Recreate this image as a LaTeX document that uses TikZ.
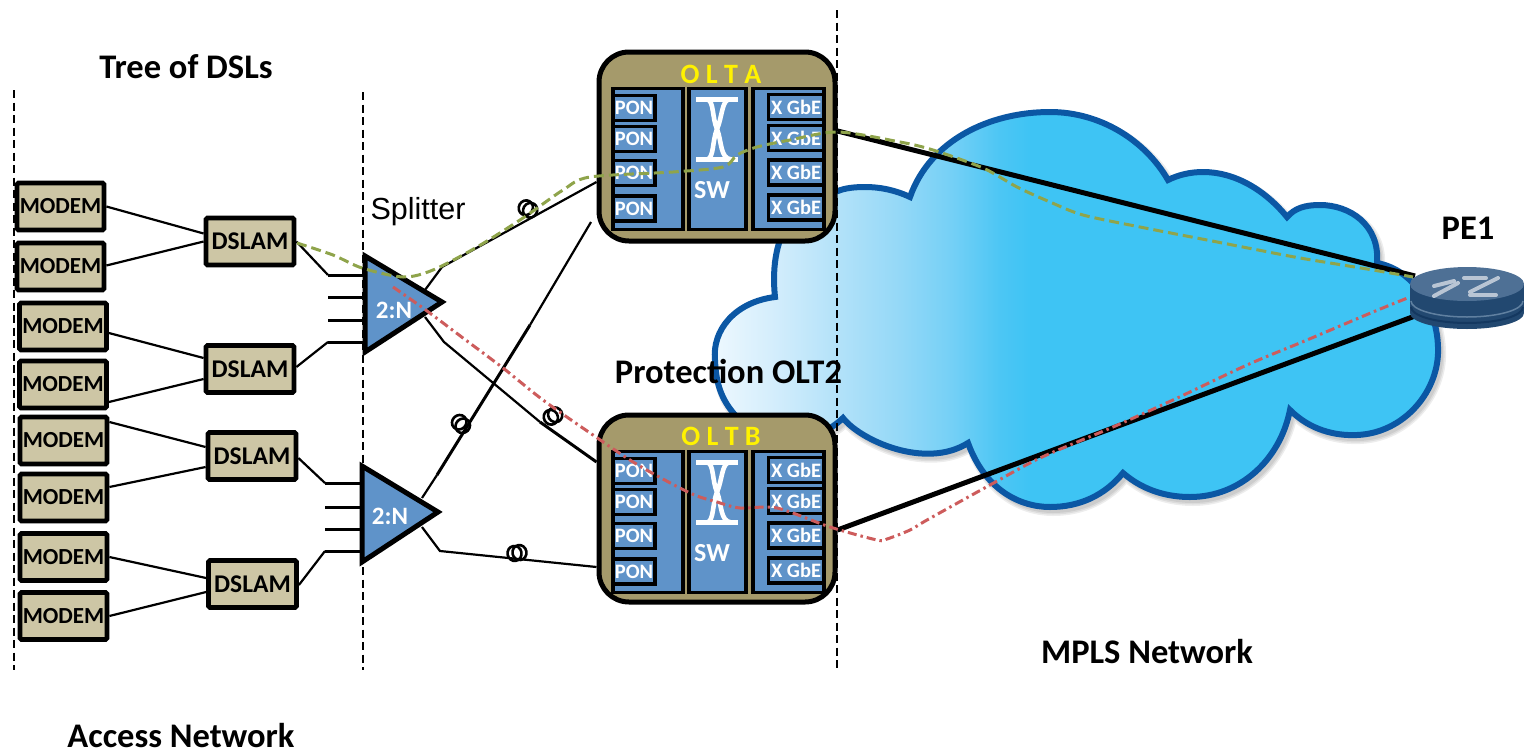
\documentclass[tikz,border=0pt]{standalone}
\usepackage{fontspec}
\setmainfont{Carlito}[BoldFont={Carlito Bold}]
\newfontfamily\splitfont{Liberation Sans}
\usetikzlibrary{calc}
\definecolor{oltfill}{HTML}{A59A6B}
\definecolor{panelblue}{HTML}{5F93C9}
\definecolor{modemfill}{HTML}{CDC6A5}
\definecolor{cloudedge}{HTML}{0B57A4}
\definecolor{gpath}{HTML}{8FA44B}
\definecolor{rpath}{HTML}{CD5C5C}
\definecolor{c0}{HTML}{EBF7FE}
\definecolor{c1}{HTML}{D5EEFC}
\definecolor{c2}{HTML}{B4E2F9}
\definecolor{c3}{HTML}{93D8F7}
\definecolor{c4}{HTML}{75D0F6}
\definecolor{c5}{HTML}{4CC6F4}
\definecolor{c6}{HTML}{3EC4F4}
\pgfdeclarehorizontalshading{cloudshade}{100bp}{color(0bp)=(c0); color(25.5bp)=(c0); color(29bp)=(c1); color(33.5bp)=(c2); color(38bp)=(c3); color(41.4bp)=(c4); color(44.8bp)=(c5); color(46.9bp)=(c6); color(100bp)=(c6)}
\newcommand\cloudpath{(775,297) .. controls (735,302) and (712,330) .. (715,360) .. controls (716,385) and (722,400) .. (735,415) .. controls (760,440) and (810,450) .. (843,418) .. controls (860,440) and (925,470) .. (968,443) .. controls (985,490) and (1020,507) .. (1050,507) .. controls (1080,507) and (1105,495) .. (1123,473) .. controls (1145,492) and (1170,497) .. (1190,497) .. controls (1240,497) and (1280,460) .. (1290,410) .. controls (1310,430) and (1335,436) .. (1357,435) .. controls (1405,433) and (1440,390) .. (1438,347) .. controls (1437,310) and (1415,270) .. (1377,263) .. controls (1380,225) and (1350,205) .. (1320,205) .. controls (1305,205) and (1295,208) .. (1287,217) .. controls (1265,190) and (1235,172) .. (1203,172) .. controls (1190,172) and (1178,175) .. (1168,180) .. controls (1145,140) and (1100,112) .. (1050,112) .. controls (990,112) and (930,140) .. (910,197) .. controls (895,190) and (880,187) .. (865,187) .. controls (855,187) and (845,188) .. (838,191) .. controls (800,195) and (768,230) .. (775,297) -- cycle}
\tikzset{
  modem/.style={draw=black,line width=4.8,fill=modemfill,rounded corners=1.5,minimum width=87,minimum height=47,inner sep=0,font=\bfseries\fontsize{23}{23}\selectfont},
  dslam/.style={modem,minimum width=88,minimum height=47,font=\bfseries\fontsize{25.5}{25.5}\selectfont},
  olt/.style={draw=black,line width=5,fill=oltfill,rounded corners=30,inner sep=0,minimum width=236},
  panel/.style={draw=black,line width=3.4,fill=panelblue,inner sep=0,minimum height=141},
  port/.style={draw=black,line width=3.4,fill=panelblue,inner sep=0,text=white,font=\bfseries\fontsize{20.5}{20.5}\selectfont,minimum height=25},
  pon/.style={port,minimum width=42},
  xgbe/.style={port,minimum width=55},
  olttitle/.style={inner sep=0,text=yellow,font=\bfseries\fontsize{28}{28}\selectfont},
  swlabel/.style={inner sep=0,text=white,font=\bfseries\fontsize{26}{26}\selectfont},
  swsym/.style={draw=white,line width=4.6},
  split/.style={draw=black,line width=5,fill=panelblue,line join=miter},
  ratio/.style={inner sep=0,text=white,font=\bfseries\fontsize{25}{25}\selectfont},
  title/.style={inner sep=0,font=\bfseries\fontsize{34.5}{34.5}\selectfont},
  thin link/.style={draw=black,line width=2.2},
  mid link/.style={draw=black,line width=3},
  thick link/.style={draw=black,line width=5},
  divider/.style={draw=black,line width=2.6,dash pattern=on 8 off 4.5},
  coil/.style={draw=black,line width=2.6,fill=none},
  gdash/.style={draw=gpath,line width=3,dash pattern=on 10 off 5},
  rdash/.style={draw=rpath,line width=3,dash pattern=on 9 off 4 on 2.5 off 4},
}
\newcommand\oltinner[2]{% prefix, y shift
  \begin{scope}[shift={(0,#2)}]
    \node[panel,minimum width=70] (#1pl) at (648,159) {};
    \node[panel,minimum width=57] (#1pm) at (717.5,159) {};
    \node[panel,minimum width=71] (#1pr) at (788.5,159) {};
    \node[pon] (#1p1) at (634,108) {PON};
    \node[pon] (#1p2) at (634,139) {PON};
    \node[pon] (#1p3) at (634,173) {PON};
    \node[pon] (#1p4) at (634,208.5) {PON};
    \node[xgbe] (#1x1) at (796,107) {X GbE};
    \node[xgbe] (#1x2) at (796,138) {X GbE};
    \node[xgbe] (#1x3) at (796,172.5) {X GbE};
    \node[xgbe] (#1x4) at (796,207.5) {X GbE};
    \draw[swsym] (696,99.5) -- (738,99.5) (696,159.5) -- (738,159.5);
    \draw[swsym] (707,99.5) .. controls (714,100) and (712,118) .. (717,129) .. controls (722,142) and (720,158) .. (731,159.5);
    \draw[swsym] (729,99.5) .. controls (722,100) and (722,118) .. (717,129) .. controls (712,142) and (714,158) .. (707,159.5);
    \node[swlabel] (#1sw) at (712,190) {SW};
  \end{scope}
}
\newcommand\coilat[3]{% x, y, rotation
  \draw[coil,rotate around={#3:(#1,#2)}] (#1-2.5,#2) ellipse [x radius=7,y radius=7.5];
  \draw[coil,rotate around={#3:(#1,#2)}] (#1+2.5,#2) ellipse [x radius=7,y radius=7.5];
}
\begin{document}
\begin{tikzpicture}[x=1pt,y=-1pt]
\useasboundingbox (0,0) rectangle (1524,753);
% cloud shadow
\begin{scope}[shift={(3,4)}]
  \foreach \w in {10,7,4} \draw[black,opacity=0.07,line width=\w] \cloudpath;
\end{scope}
\draw[draw=cloudedge,line width=6,line join=miter,shading=cloudshade] \cloudpath;
% dividers
\coordinate (d1a) at (14,90); \coordinate (d1b) at (14,670);
\coordinate (d2a) at (363,92); \coordinate (d2b) at (363,670);
\coordinate (d3a) at (837,10); \coordinate (d3b) at (837,670);
\draw[divider] (d1a) -- (d1b);
\draw[divider] (d2a) -- (d2b);
\draw[divider] (d3a) -- (d3b);
% modems
\node[modem] (m1) at (60.5,206.5) {MODEM};
\node[modem] (m2) at (60.5,266.5) {MODEM};
\node[modem] (m3) at (63,326.5) {MODEM};
\node[modem] (m4) at (63,384.5) {MODEM};
\node[modem] (m5) at (63.5,440.5) {MODEM};
\node[modem] (m6) at (63.5,497.5) {MODEM};
\node[modem] (m7) at (63.5,557) {MODEM};
\node[modem] (m8) at (63.5,616) {MODEM};
% dslams
\node[dslam] (ds1) at (250,241.5) {DSLAM};
\node[dslam] (ds2) at (250,369) {DSLAM};
\node[dslam] (ds3) at (252,456) {DSLAM};
\node[dslam] (ds4) at (252.5,584) {DSLAM};
% modem to dslam
\draw[thin link] (m1.east) -- ([yshift=8]ds1.west);
\draw[thin link] ([yshift=1]m2.east) -- (ds1.west);
\draw[thin link] (m3.east |- 0,333) -- ([yshift=11]ds2.west);
\draw[thin link] (m4.east |- 0,402) -- ([yshift=-10]ds2.west);
\draw[thin link] (m5.east |- 0,422) -- ([yshift=9]ds3.west);
\draw[thin link] (m6.east |- 0,487) -- ([yshift=-11]ds3.west);
\draw[thin link] (m7.east |- 0,557) -- ([yshift=6]ds4.west);
\draw[thin link] (m8.east) -- ([yshift=-8]ds4.west);
% splitters
\coordinate (s1a) at (328,275); \coordinate (s1b) at (328,297); \coordinate (s1c) at (328,320); \coordinate (s1d) at (328,342);
\coordinate (s2a) at (325,483); \coordinate (s2b) at (325,507); \coordinate (s2c) at (325,529); \coordinate (s2d) at (325,551);
\draw[thin link] (ds1.east) -- (s1a);
\draw[thin link] ([yshift=2]ds2.east) -- (s1d);
\draw[thin link] ([yshift=-2]ds3.east) -- (s2a);
\draw[thin link] ([yshift=-1]ds4.east) -- (s2d);
\draw[mid link] (s1a) -- (365,275) (s1b) -- (365,297) (s1c) -- (365,320) (s1d) -- (365,342);
\draw[mid link] (s2a) -- (362,483) (s2b) -- (362,507) (s2c) -- (362,529) (s2d) -- (362,551);
\draw[split] (365,256) -- (442,302) -- (365,352) -- cycle;
\draw[split] (362,466) -- (438,512) -- (362,562) -- cycle;
\node[ratio] (r1) at (394,310) {2:N};
\node[ratio] (r2) at (390,516) {2:N};
% OLT boxes
\node[olt,minimum height=189] (olta) at (717,146.5) {};
\node[olt,minimum height=187] (oltb) at (717,508.5) {};
\oltinner{a}{0}
\oltinner{b}{363}
\node[olttitle] (ta) at (721,74) {O L T A};
\node[olttitle] (tb) at (721,436) {O L T B};
% splitter to OLT links
\coordinate (k1) at (442,267); \coordinate (k2) at (444,342);
\coordinate (k3) at (437,475); \coordinate (k4) at (440,551);
\draw[thin link] (425,290) -- (k1) -- (olta.west |- 0,182);
\draw[thin link] (425,317) -- (k2) -- (540,422);
\draw[mid link] (540,422) -- (oltb.west |- 0,462);
\draw[thin link] (422,498) -- (k3);
\draw[mid link] (k3) -- (530,325);
\draw[thin link] (530,325) -- (591,222);
\draw[thin link] (422,527) -- (k4) -- (oltb.west |- 0,567);
\coilat{528}{209}{-30}
\coilat{553}{416}{30}
\coilat{461}{424}{-45}
\coilat{517}{553}{10}
% core links
\coordinate (pe) at (1415,276); \coordinate (pf) at (1415,316);
\draw[thick link] (olta.east |- 0,131) -- (pe);
\draw[thick link] (oltb.east |- 0,530) -- (pf);
% router
\begin{scope}
\clip (1400,250) rectangle (1524,340);
\fill[fill={rgb,255:red,34;green,72;blue,112}] (1410,284) -- (1410,313) arc [start angle=180,end angle=0,x radius=57,y radius=16] -- (1524,284) -- cycle;
\draw[draw={rgb,255:red,96;green,128;blue,160},line width=1.5] (1411,301) arc [start angle=180,end angle=0,x radius=56,y radius=16];
\draw[draw={rgb,255:red,20;green,56;blue,96},line width=2] (1411,307) arc [start angle=180,end angle=0,x radius=56,y radius=16];
\fill[fill={rgb,255:red,78;green,112;blue,149}] (1467,284) ellipse [x radius=57,y radius=17];
\foreach \a/\b/\c/\d in {1434/296/1458/283,1454/281/1434/286,1464/278/1486/278,1470/292/1498/278,1496/295/1470/295}
  \draw[draw={rgb,255:red,185;green,197;blue,212},line width=4,line cap=round] (\a,\b) -- (\c,\d);
\end{scope}
% labels
\node[title] (t1) at (186,67) {Tree of DSLs};
\node[inner sep=0,font=\splitfont\fontsize{30.5}{30.5}\selectfont] (t2) at (418,212) {Splitter};
\node[title] (t3) at (728.5,371) {Protection OLT2};
\node[title] (t4) at (1147,652) {MPLS Network};
\node[title] (t5) at (181,736) {Access Network};
\node[title] (t6) at (1468,228) {PE1};
% service paths
\draw[gdash] plot[smooth,tension=0.5] coordinates {(297,243) (333,255) (362,268) (403,277) (433,270) (477,247) (523,218) (563,190) (590,177) (673,172) (723,167) (737,155) (757,147) (790,140) (838,132) (900,142) (933,150) (983,168) (1017,187) (1050,202) (1083,215) (1140,227) (1207,240) (1253,249) (1300,258) (1373,270) (1413,277)};
\draw[rdash] plot[smooth,tension=0.5] coordinates {(393,287) (423,308) (463,338) (503,368) (543,400) (593,435) (638,465) (690,493) (717,502) (740,508) (777,508) (830,527) (877,540) (887,539) (910,530) (927,520) (990,485) (1040,458) (1113,427) (1173,400) (1247,365) (1307,340) (1373,312) (1410,297)};
\end{tikzpicture}
\end{document}
